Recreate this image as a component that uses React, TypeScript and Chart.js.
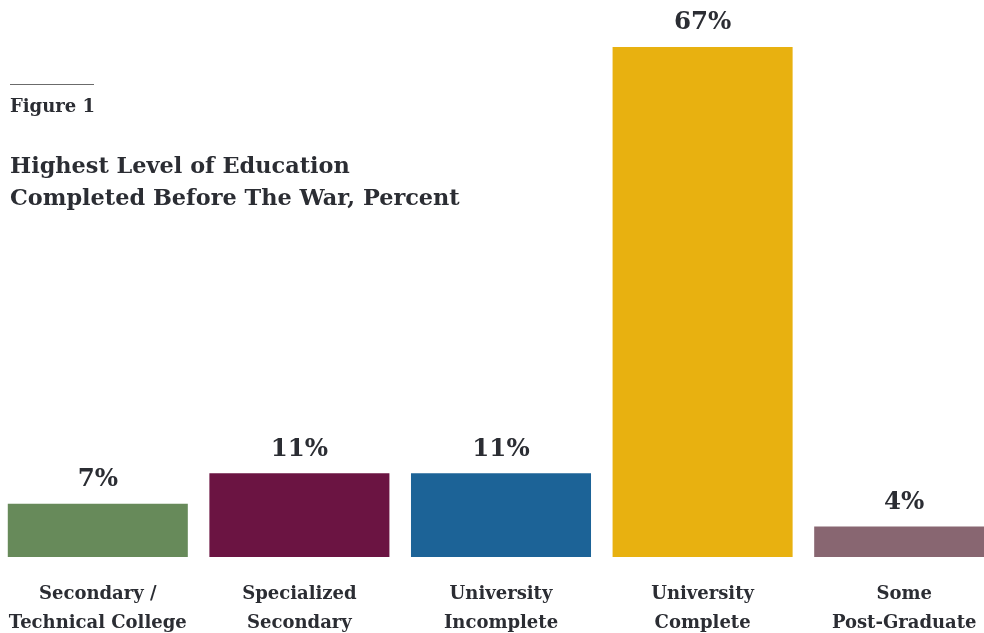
import React, { useEffect, useRef } from "react";
import { Chart, registerables } from "chart.js";

Chart.register(...registerables);

const categories: string[][] = [
  ["Secondary /", "Technical College"],
  ["Specialized", "Secondary"],
  ["University", "Incomplete"],
  ["University", "Complete"],
  ["Some", "Post-Graduate"],
];
const values: number[] = [7, 11, 11, 67, 4];
const barColors: string[] = ["#678A5A", "#6B1442", "#1C6397", "#E8B110", "#886671"];

const TEXT = "#2B2D33";
const FONT = "'DejaVu Serif', serif";

const valueLabels = {
  id: "valueLabels",
  afterDatasetsDraw(chart: any) {
    const ctx = chart.ctx;
    const meta = chart.getDatasetMeta(0);
    ctx.save();
    ctx.fillStyle = TEXT;
    ctx.font = `bold 24.5px ${FONT}`;
    ctx.textAlign = "center";
    ctx.textBaseline = "middle";
    meta.data.forEach((bar: any, i: number) => {
      ctx.fillText(values[i] + "%", bar.x, bar.y - 24);
    });
    ctx.restore();
  },
};

export default function App() {
  const ref = useRef<HTMLCanvasElement>(null);
  useEffect(() => {
    document.body.style.margin = "0";
    document.body.style.overflow = "hidden";
    const chart = new Chart(ref.current!, {
      type: "bar",
      data: {
        labels: categories,
        datasets: [
          {
            data: values,
            backgroundColor: barColors,
            borderWidth: 0,
            barPercentage: 0.893,
            categoryPercentage: 1,
          },
        ],
      },
      options: {
        responsive: false,
        animation: false,
        devicePixelRatio: 1,
        layout: { padding: { top: 47, left: 0, right: 0, bottom: 0 } },
        plugins: { legend: { display: false }, tooltip: { enabled: false }, title: { display: false } },
        scales: {
          x: {
            grid: { display: false, drawTicks: false },
            border: { display: false },
            ticks: {
              color: TEXT,
              font: { family: FONT, size: 18, weight: "bold", lineHeight: 1.6 },
              padding: 23,
              maxRotation: 0,
              autoSkip: false,
            },
            afterFit: (scale: any) => {
              scale.height = 76;
              scale.paddingLeft = 0;
              scale.paddingRight = 0;
            },
          },
          y: { display: false, min: 0, max: 67 },
        },
      },
      plugins: [valueLabels],
    });
    return () => chart.destroy();
  }, []);

  return (
    <div style={{ position: "fixed", left: 0, top: 0, width: 984, height: 633, overflow: "hidden", background: "#fff" }}>
      <canvas ref={ref} width={1008} height={633} style={{ position: "absolute", left: -3, top: 0 }} />
      <div style={{ position: "absolute", left: 10, top: 84, width: 84, height: 1, background: "#6b6b6b" }} />
      <div
        style={{
          position: "absolute",
          left: 10,
          top: 95,
          fontFamily: FONT,
          fontWeight: "bold",
          fontSize: 18,
          color: TEXT,
          lineHeight: "22px",
          whiteSpace: "nowrap",
        }}
      >
        Figure 1
      </div>
      <div
        style={{
          position: "absolute",
          left: 10,
          top: 149,
          fontFamily: FONT,
          fontWeight: "bold",
          fontSize: 22.4,
          color: TEXT,
          lineHeight: "32px",
          whiteSpace: "nowrap",
        }}
      >
        Highest Level of Education
        <br />
        Completed Before The War, Percent
      </div>
    </div>
  );
}
